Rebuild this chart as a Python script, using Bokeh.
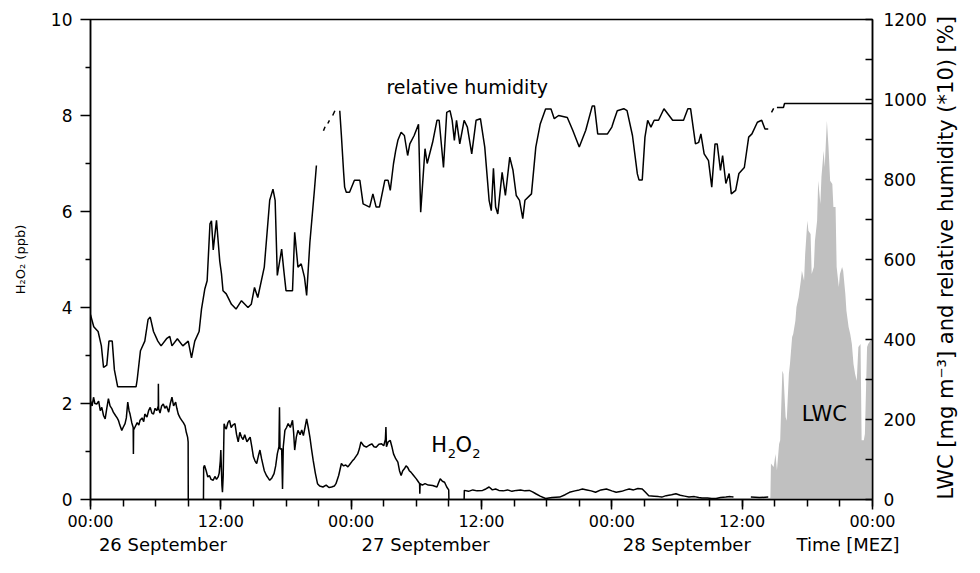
import math
from bokeh.plotting import figure
from bokeh.models import Range1d, LinearAxis, FixedTicker, Label
from bokeh.embed import file_html
from bokeh.resources import INLINE

NaN = float("nan")

# ---------------- data ----------------
# relative humidity, hours since 26 Sep 00:00, in %
rh_hours = [0.0, 0.3, 0.7, 1.0, 1.2, 1.5, 1.7, 2.0, 2.2, 2.5, 4.2, 4.3, 4.6, 5.0, 5.3, 5.5, 5.8,
            6.2, 6.5, 7.0, 7.3, 7.5, 8.0, 8.5, 9.0, 9.3, 9.6, 10.0, 10.22, 10.53, 10.74, 11.0,
            11.14, 11.3, 11.6, 11.9, 12.06, 12.2, 12.5, 12.98, 13.4, 13.9, 14.5, 14.8, 15.1,
            15.4, 16.0, 16.5, 16.8, 17.0, 17.2, 17.6, 17.8, 18.0, 18.6, 18.8, 19.1, 19.4, 19.7,
            19.9, 20.2, 20.6, 20.8, 20.9, 21.45, 21.6, 21.7, 21.85, 22.0, 22.1, 22.3, 22.5, 22.6,
            22.95, 23.1, 23.3, 23.4, 23.55, 23.85, 24.3, 24.5, 24.8, 25.1, 25.7, 26.0, 26.3,
            26.6, 27.1, 27.4, 27.6, 27.9, 28.1, 28.3, 28.6, 28.9, 29.2, 29.4, 29.8, 30.2, 30.4,
            30.8, 31.0, 31.5, 31.9, 32.1, 32.5, 32.8, 33.1, 33.3, 33.5, 33.7, 34.0, 34.4, 34.7,
            35.1, 35.5, 35.9, 36.3, 36.7, 36.9, 37.1, 37.3, 37.5, 37.9, 38.2, 38.6, 38.9, 39.2,
            39.5, 39.8, 40.0, 40.6, 41.0, 41.4, 41.9, 42.4, 42.7, 43.1, 43.9, 44.4, 45.0, 45.6,
            46.2, 46.4, 46.7, 47.6, 48.0, 48.2, 48.5, 49.1, 49.4, 49.9, 50.35, 50.5, 50.8, 51.05,
            51.3, 51.6, 51.9, 52.3, 52.8, 53.6, 54.6, 55.0, 55.25, 55.7, 56.0, 56.2, 56.5, 56.9,
            57.2, 57.5, 57.7, 58.0, 58.2, 58.5, 58.8, 59.0, 59.4, 59.7, 60.2, 60.6, 60.9, 61.4,
            61.8, 62.1, 62.4, 62.5, 62.7, 62.9, 63.0, 63.2, 63.8, 63.9, 72.0]
rh_percent = [46.2, 43.2, 42.0, 38.4, 33.0, 33.6, 39.6, 39.6, 32.4, 28.2, 28.2, 30.0, 37.2, 39.6,
              45.0, 45.6, 42.0, 39.6, 38.4, 40.2, 40.8, 38.4, 40.2, 38.4, 39.6, 35.4, 39.6, 42.0,
              47.6, 52.7, 54.7, 68.9, 69.7, 62.4, 69.8, 59.6, 56.4, 52.2, 51.4, 48.8, 47.6, 49.7,
              48.0, 48.8, 53.0, 50.5, 58.1, 74.8, 77.6, 74.8, 56.0, 62.6, 57.2, 52.2, 52.2, 66.8,
              58.1, 58.9, 55.6, 51.0, 64.3, 76.8, 83.5, NaN, 92.2, 93.2, NaN, 94.0, 94.8, NaN,
              96.0, 97.2, NaN, 97.2, 91.0, 82.0, 78.1, 76.8, 76.8, 79.8, 79.8, 79.8, 73.9, 73.1,
              76.4, 73.1, 73.1, 79.8, 79.8, 77.3, 84.0, 87.2, 89.8, 91.8, 91.0, 86.0, 88.9, 91.0,
              93.8, 71.8, 87.7, 84.0, 89.3, 94.8, 94.8, 83.0, 96.8, 97.2, 94.8, 89.8, 94.8, 88.9,
              94.8, 93.1, 86.4, 94.8, 95.2, 88.1, 74.8, 72.2, 82.8, 73.1, 71.4, 81.8, 76.0, 85.6,
              82.3, 76.0, 74.8, 70.2, 74.8, 76.4, 88.1, 93.8, 97.6, 97.6, 95.2, 96.0, 95.5, 92.3,
              88.1, 92.3, 98.4, 98.4, 91.4, 91.4, 93.1, 94.8, 97.2, 97.7, 97.2, 91.0, 81.4, 79.9,
              79.9, 90.6, 94.8, 93.1, 94.8, 94.8, 97.7, 94.8, 94.8, 97.7, 97.7, 88.9, 89.3, 91.4,
              86.4, 84.7, 78.1, 88.9, 88.9, 82.3, 86.0, 79.0, 81.5, 76.4, 77.3, 81.5, 83.0, 90.6,
              91.4, 94.3, 94.8, 92.6, 92.6, NaN, 96.8, 97.8, NaN, 98.0, 98.0, 99.0, 99.0]

# H2O2 mixing ratio in ppb
h2o2_hours = [0.0, 0.15, 0.28, 0.4, 0.58, 0.75, 0.9, 1.04, 1.2, 1.35, 1.5, 1.65, 1.8, 1.95, 2.1,
              2.3, 2.45, 2.57, 2.7, 2.88, 3.0, 3.18, 3.3, 3.43, 3.55, 3.64, 3.8, 3.93, 3.95, 3.97,
              4.1, 4.3, 4.45, 4.56, 4.75, 4.9, 5.0, 5.2, 5.35, 5.5, 5.65, 5.8, 5.95, 6.1, 6.24,
              6.25, 6.27, 6.4, 6.55, 6.7, 6.85, 7.0, 7.2, 7.35, 7.5, 7.65, 7.84, 7.95, 8.08, 8.25,
              8.4, 8.55, 8.7, 8.82, 8.94, 8.99, 9.0, 9.5, 10.4, 10.42, 10.5, 10.65, 10.8, 10.95,
              11.1, 11.3, 11.45, 11.6, 11.75, 11.85, 11.95, 12.0, 12.1, 12.15, 12.22, 12.3, 12.4,
              12.5, 12.65, 12.8, 12.95, 13.1, 13.3, 13.45, 13.6, 13.75, 13.9, 14.05, 14.2, 14.4,
              14.55, 14.7, 14.85, 15.0, 15.15, 15.3, 15.45, 15.6, 15.75, 15.9, 16.0, 16.2, 16.35,
              16.5, 16.7, 16.9, 17.05, 17.2, 17.35, 17.4, 17.45, 17.6, 17.68, 17.75, 17.9, 18.05,
              18.2, 18.4, 18.6, 18.7, 18.8, 18.95, 19.1, 19.3, 19.45, 19.6, 19.75, 19.9, 20.05,
              20.2, 20.35, 20.5, 20.7, 20.9, 21.1, 21.4, 21.7, 21.95, 22.2, 22.45, 22.6, 22.85,
              23.1, 23.3, 23.5, 23.7, 23.9, 24.1, 24.3, 24.6, 24.75, 24.9, 25.15, 25.4, 25.65,
              25.9, 26.1, 26.3, 26.55, 26.8, 27.0, 27.15, 27.2, 27.25, 27.4, 27.6, 27.75, 27.9,
              28.1, 28.3, 28.45, 28.6, 28.75, 28.9, 29.05, 29.2, 29.35, 29.5, 29.75, 30.0, 30.15,
              30.3, 30.32, 30.35, 30.55, 30.8, 31.1, 31.5, 31.9, 32.05, 32.2, 32.4, 32.6, 32.8,
              32.98, 33.0, 33.7, 34.4, 34.42, 34.8, 35.2, 35.6, 36.1, 36.4, 36.7, 37.0, 37.3,
              37.6, 38.0, 38.4, 38.8, 39.2, 39.6, 40.0, 40.4, 40.7, 41.0, 41.4, 41.9, 42.5, 43.2,
              43.7, 44.1, 44.6, 45.0, 45.3, 45.7, 46.1, 46.5, 47.0, 47.5, 48.0, 48.4, 48.9, 49.3,
              49.6, 50.0, 50.4, 50.8, 51.1, 51.4, 51.9, 52.3, 52.6, 53.0, 53.5, 53.9, 54.3, 54.7,
              55.1, 55.6, 56.0, 56.3, 56.8, 57.2, 57.6, 58.0, 58.5, 58.9, 59.2, 60.0, 60.8, 61.6,
              62.4]
h2o2_ppb = [2.05, 1.95, 2.13, 2.0, 1.99, 2.05, 1.85, 1.92, 1.75, 1.68, 1.9, 2.1, 1.95, 1.9, 1.82,
            1.75, 1.7, 1.65, 1.55, 1.44, 1.5, 1.58, 1.7, 2.03, 1.85, 1.78, 1.6, 1.5, 0.95, 1.45,
            1.51, 1.6, 1.55, 1.65, 1.7, 1.62, 1.78, 1.72, 1.85, 1.92, 1.8, 1.78, 1.9, 1.85, 1.95,
            2.41, 1.9, 1.8, 1.95, 1.99, 1.9, 1.95, 1.82, 2.0, 2.13, 1.95, 2.03, 1.9, 1.78, 1.7,
            1.65, 1.6, 1.54, 1.4, 1.3, 1.2, 0.0, NaN, 0.0, 0.67, 0.71, 0.6, 0.47, 0.5,
            0.42, 0.4, 0.48, 0.42, 0.47, 0.55, 0.8, 1.03, 0.3, 0.15, 0.5, 1.58, 1.5,
            1.47, 1.6, 1.65, 1.5, 1.55, 1.58, 1.35, 1.2, 1.4, 1.3, 1.25, 1.35, 1.2,
            1.25, 1.3, 1.1, 0.89, 0.8, 0.75, 0.9, 1.03, 0.85, 0.7, 0.6, 0.5, 0.45,
            0.4, 0.45, 0.54, 0.7, 0.95, 1.1, 1.92, 1.05, 1.06, 0.22, 1.1, 1.44, 1.5,
            1.58, 1.5, 1.65, 1.4, 1.03, 1.3, 1.44, 1.35, 1.45, 1.33, 1.5, 1.68, 1.5,
            1.3, 1.05, 0.82, 0.55, 0.33, 0.28, 0.26, 0.3, 0.25, 0.26, 0.28, 0.33, 0.5,
            0.75, 0.7, 0.72, 0.68, 0.74, 0.8, 0.85, 0.95, 1.05, 1.2, 1.12, 1.09, 1.13,
            1.16, 1.1, 1.09, 1.15, 1.16, 1.12, 1.25, 1.51, 1.1, 1.2, 1.23, 1.1, 0.95,
            0.85, 0.78, 0.6, 0.5, 0.6, 0.64, 0.7, 0.67, 0.6, 0.57, 0.5, 0.43, 0.38,
            0.33, 0.12, 0.33, 0.3, 0.33, 0.3, 0.29, 0.26, 0.35, 0.43, 0.38, 0.36, 0.26,
            0.2, 0.0, NaN, 0.0, 0.19, 0.17, 0.2, 0.18, 0.19, 0.22, 0.26, 0.2, 0.22,
            0.19, 0.18, 0.2, 0.17, 0.19, 0.2, 0.18, 0.19, 0.16, 0.12, 0.07, 0.02, 0.04, 0.05,
            0.1, 0.15, 0.18, 0.2, 0.22, 0.2, 0.18, 0.15, 0.2, 0.22, 0.18, 0.15, 0.17, 0.2,
            0.22, 0.2, 0.23, 0.22, 0.15, 0.08, 0.07, 0.06, 0.05, 0.08, 0.1, 0.12, 0.09, 0.07,
            0.05, 0.06, 0.04, 0.03, 0.03, 0.02, 0.02, 0.04, 0.05, 0.06, 0.05, NaN, 0.05, 0.04,
            0.05]

# liquid water content in mg m-3
lwc_hours = [62.55, 62.6, 62.65, 62.9, 63.07, 63.2, 63.4, 63.5, 63.7, 63.8, 64.0, 64.1, 64.3, 64.4,
             64.6, 64.7, 64.9, 65.0, 65.2, 65.4, 65.5, 65.7, 65.8, 66.0, 66.1, 66.3, 66.4, 66.6,
             66.7, 66.9, 67.0, 67.2, 67.3, 67.5, 67.6, 67.8, 67.95, 68.1, 68.3, 68.4, 68.6, 68.7,
             68.9, 69.0, 69.2, 69.3, 69.5, 69.6, 69.8, 69.95, 70.1, 70.25, 70.4, 70.55, 70.7,
             70.9, 71.0, 71.2, 71.3, 71.5, 71.6, 71.8, 71.9, 72.0]
lwc_mg_m3 = [0, 6, 90, 81, 114, 73, 139, 148, 322, 314, 206, 197, 314, 339, 406, 414, 447, 481, 506,
             547, 572, 547, 614, 697, 672, 664, 564, 581, 647, 697, 797, 739, 806, 872, 831, 947,
             881, 797, 789, 731, 731, 581, 531, 564, 581, 572, 514, 472, 431, 414, 389, 339, 314,
             297, 381, 389, 148, 148, 164, 381, 389, 397, 397, 397]

x_tick_hours = [0, 12, 24, 36, 48, 60, 72]
x_tick_labels = ["00:00", "12:00", "00:00", "12:00", "00:00", "12:00", "00:00"]
left_ticks = [0, 2, 4, 6, 8, 10]
right_ticks = [0, 200, 400, 600, 800, 1000, 1200]
date_labels = ["26 September", "27 September", "28 September", "Time [MEZ]"]
date_label_hours = [6.67, 30.86, 54.9, 69.75]

# ---------------- figure ----------------
FONT = "DejaVu Sans"

p = figure(width=972, height=557, x_range=Range1d(0, 72), y_range=Range1d(0, 10),
           output_backend="svg", toolbar_location=None,
           min_border_left=90, min_border_right=98, min_border_top=19, min_border_bottom=58)
p.extra_y_ranges = {"right": Range1d(0, 1200)}
p.grid.visible = False
p.outline_line_color = "black"
p.outline_line_width = 1.5
p.background_fill_color = "white"
p.border_fill_color = "white"

p.varea(x=lwc_hours, y1=0, y2=lwc_mg_m3, y_range_name="right", fill_color="#c0c0c0")

rh_scaled = [v * 10 for v in rh_percent]
p.line(rh_hours, rh_scaled, y_range_name="right", line_color="black", line_width=1.5)
p.line(h2o2_hours, h2o2_ppb, line_color="black", line_width=1.5)


def style_axis(ax):
    ax.axis_line_width = 1.5
    ax.major_tick_line_width = 1.5
    ax.minor_tick_line_width = 1.5
    ax.major_label_text_font = FONT
    ax.major_label_text_font_size = "17px"
    ax.major_label_text_color = "black"
    ax.axis_label_text_font = FONT
    ax.axis_label_text_font_style = "normal"
    ax.axis_label_text_color = "black"


xa = p.xaxis[0]
xa.ticker = FixedTicker(ticks=x_tick_hours, minor_ticks=list(range(0, 73, 3)))
xa.major_label_overrides = {h: s for h, s in zip(x_tick_hours, x_tick_labels)}
style_axis(xa)
xa.major_label_text_font_size = "16px"
xa.major_tick_out = 10
xa.major_tick_in = 0
xa.minor_tick_out = 7
xa.minor_tick_in = 0
xa.major_label_standoff = 2

# second row below the time axis: dates and axis title
da = LinearAxis(ticker=FixedTicker(ticks=date_label_hours, minor_ticks=[]),
                major_label_overrides={h: s for h, s in zip(date_label_hours, date_labels)})
style_axis(da)
da.axis_line_color = None
da.major_tick_line_color = None
da.minor_tick_line_color = None
da.major_tick_out = 0
da.major_tick_in = 0
da.major_label_text_font_size = "18px"
da.major_label_standoff = 0
p.add_layout(da, "below")

ya = p.yaxis[0]
ya.ticker = FixedTicker(ticks=left_ticks, minor_ticks=[1, 3, 5, 7, 9])
style_axis(ya)
ya.major_tick_out = 10
ya.major_tick_in = 0
ya.minor_tick_out = 5
ya.minor_tick_in = 0
ya.major_label_standoff = 8
ya.axis_label = "H\u2082O\u2082 (ppb)"
ya.axis_label_text_font_size = "13px"
ya.axis_label_standoff = 20

ra = LinearAxis(y_range_name="right",
                ticker=FixedTicker(ticks=right_ticks, minor_ticks=list(range(100, 1200, 200))),
                axis_label="LWC [mg m\u207b\u00b3] and relative humidity (*10) [%]")
style_axis(ra)
ra.major_tick_in = 7
ra.major_tick_out = 0
ra.minor_tick_in = 7
ra.minor_tick_out = 0
ra.major_label_standoff = 11
ra.axis_label_text_font_size = "21px"
ra.axis_label_standoff = 16
ra.axis_label_orientation = math.pi / 2
ra.axis_label_align = "start"
p.add_layout(ra, "right")

# in-plot labels
p.add_layout(Label(x=27.25, y=8.59, text="relative humidity", text_font=FONT,
                   text_font_size="19px", text_baseline="alphabetic", text_color="black"))
p.add_layout(Label(x=31.38, y=1.14, text="H", text_font=FONT, text_font_size="21px",
                   text_baseline="alphabetic", text_color="black"))
p.add_layout(Label(x=32.9, y=0.965, text="2", text_font=FONT, text_font_size="13px",
                   text_baseline="alphabetic", text_color="black"))
p.add_layout(Label(x=33.61, y=1.14, text="O", text_font=FONT, text_font_size="21px",
                   text_baseline="alphabetic", text_color="black"))
p.add_layout(Label(x=35.15, y=0.965, text="2", text_font=FONT, text_font_size="13px",
                   text_baseline="alphabetic", text_color="black"))
p.add_layout(Label(x=65.48, y=1.79, text="LWC", text_font=FONT, text_font_size="21px",
                   text_baseline="alphabetic", text_color="black"))

open("out.html", "w").write(file_html(p, INLINE))
